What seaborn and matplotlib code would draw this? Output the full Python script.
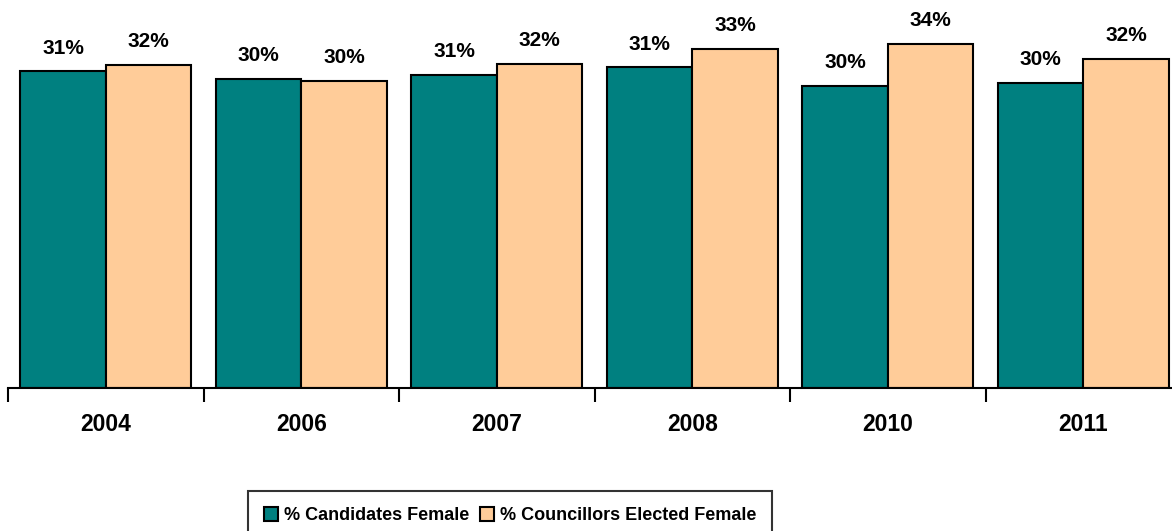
import matplotlib
matplotlib.use("Agg")
import matplotlib.pyplot as plt
import seaborn as sns
import pandas as pd
from matplotlib.patches import Patch

years = ["2004", "2006", "2007", "2008", "2010", "2011"]
candidates = [31.0, 30.3, 30.7, 31.4, 29.6, 29.9]
councillors = [31.6, 30.1, 31.7, 33.2, 33.7, 32.2]
series = ["% Candidates Female", "% Councillors Elected Female"]
colors = ["#008080", "#FFCC99"]

df = pd.DataFrame({
    "Year": years * 2,
    "Value": candidates + councillors,
    "Series": [series[0]] * len(years) + [series[1]] * len(years),
})

sns.set_theme(style="white")
plt.rcParams["font.family"] = ["Liberation Sans", "DejaVu Sans"]

fig = plt.figure(figsize=(11.72, 5.31), dpi=100)
ax = fig.add_axes([8 / 1172, 1 - 388 / 531, (1181 - 8) / 1172, 388 / 531])

sns.barplot(data=df, x="Year", y="Value", hue="Series", palette=colors,
            width=0.875, edgecolor="black", linewidth=1.5, ax=ax,
            legend=False, saturation=1)

for cont in ax.containers:
    ax.bar_label(cont, labels=[f"{v:.0f}%" for v in cont.datavalues],
                 padding=10, fontsize=15, fontweight="bold", color="black")

ax.set_ylim(0, 38.0)
ax.set_xlim(-0.5, len(years) - 0.5)
ax.set_xlabel("")
ax.set_ylabel("")
ax.set_yticks([])
for s in ["top", "right", "left"]:
    ax.spines[s].set_visible(False)
ax.spines["bottom"].set_color("black")
ax.spines["bottom"].set_linewidth(1.5)
ax.set_xticks([i - 0.5 for i in range(len(years) + 1)], minor=True)
ax.tick_params(axis="x", which="minor", bottom=True, length=10, width=1.5, color="black")
ax.tick_params(axis="x", which="major", bottom=False, pad=12, labelsize=16.5, labelcolor="black")
for lbl in ax.get_xticklabels():
    lbl.set_fontweight("bold")

handles = [Patch(facecolor=c, edgecolor="black", linewidth=1.5) for c in colors]
leg = fig.legend(handles, series, loc="upper center",
                 bbox_to_anchor=(510 / 1172, 1 - 491 / 531),
                 ncol=2, frameon=True, fancybox=False, borderaxespad=0,
                 prop={"weight": "bold", "size": 13},
                 handlelength=0.8, handleheight=0.8, handletextpad=0.3,
                 columnspacing=0.6, borderpad=0.9)
for t in leg.get_texts():
    t.set_color("black")
leg.get_frame().set_edgecolor("black")
leg.get_frame().set_linewidth(1.5)

fig.savefig("out.png", dpi=100)
